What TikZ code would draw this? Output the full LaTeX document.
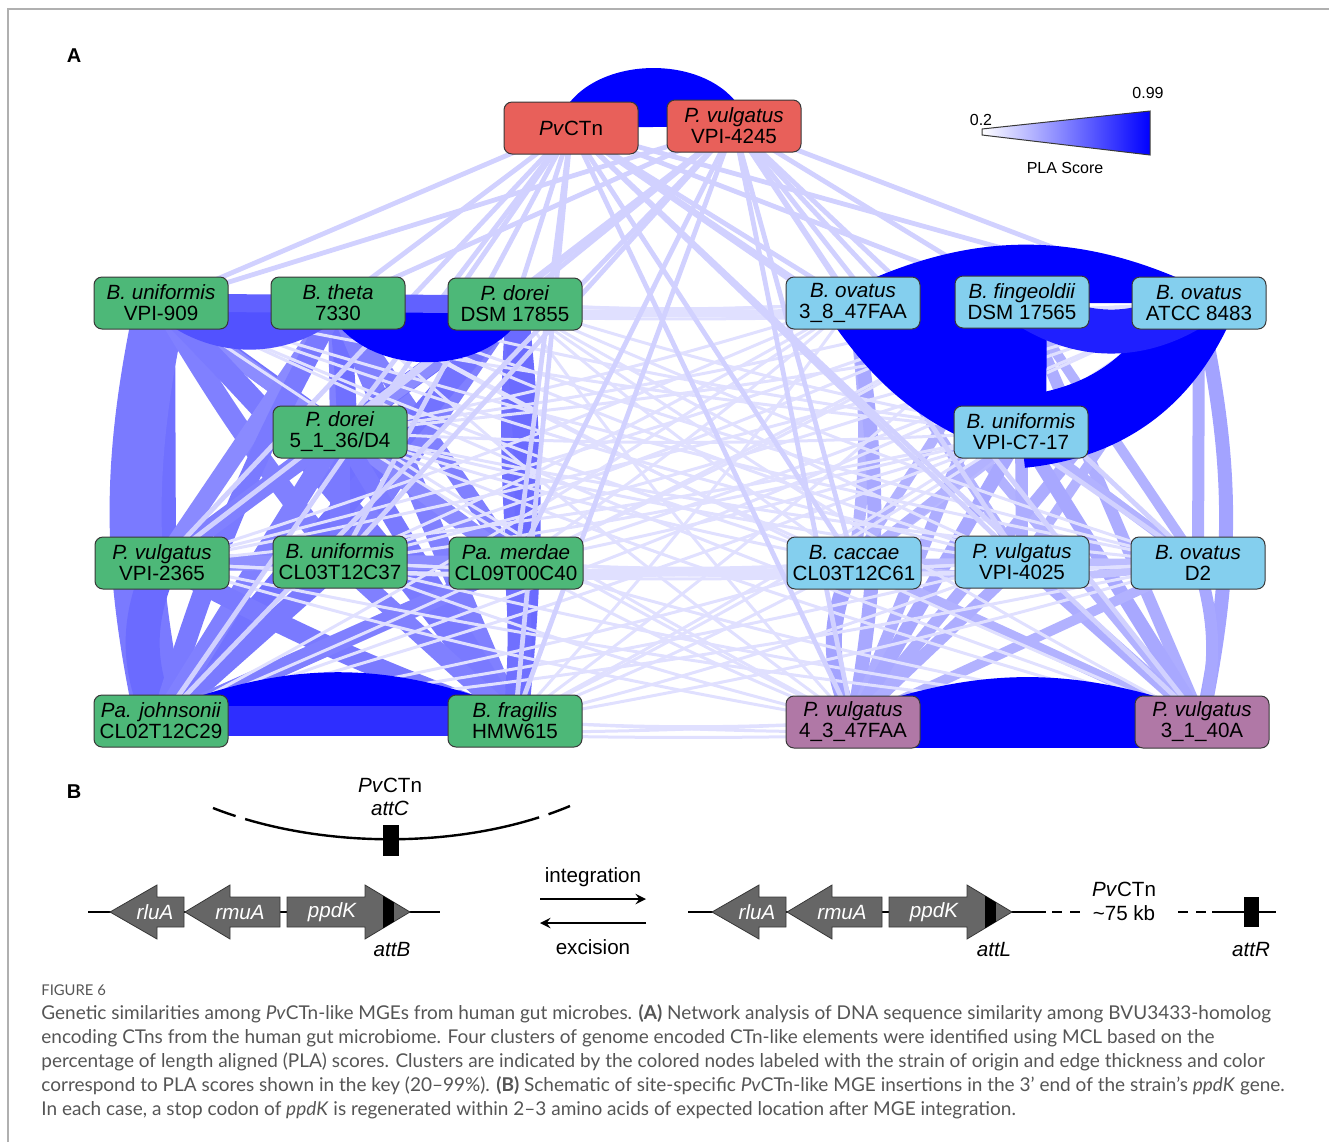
\documentclass[tikz,border=0pt]{standalone}
\usepackage{fontspec}
\setmainfont{Liberation Sans}
\newfontfamily\captionfont{Lato}
\usetikzlibrary{backgrounds}
\definecolor{clustgreen}{HTML}{4DB878}
\definecolor{clustblue}{HTML}{84CFEE}
\definecolor{clustpurple}{HTML}{B078A6}
\definecolor{clustred}{HTML}{E8605A}
\definecolor{boxline}{HTML}{383838}
\definecolor{genegrey}{HTML}{666666}
\definecolor{captiongrey}{HTML}{555555}
\definecolor{framegrey}{HTML}{B0B0B0}

\begin{document}
\begin{tikzpicture}[x=0.5pt,y=-0.5pt,>=stealth,font=\fontsize{10.3}{10.5}\selectfont]
  \tikzstyle{strain}=[draw=boxline, line width=0.5pt, rounded corners=4pt, minimum width=67pt, minimum height=26pt, inner sep=1pt, align=center]
  \tikzstyle{link}=[line cap=butt]
  \tikzstyle{crosslink}=[draw=blue!12, line width=1.5pt]
  \tikzstyle{redlink}=[draw=blue!18, line width=2.4pt]
  \tikzstyle{gene}=[fill=genegrey, draw=boxline, line width=0.4pt]
  \tikzstyle{genelab}=[text=white, font=\fontsize{10.3}{11}\selectfont\itshape]
  \tikzstyle{dna}=[line width=1.2pt]
  \tikzstyle{panel}=[font=\fontsize{10}{11}\selectfont\bfseries]
  \tikzstyle{capline}=[anchor=base west, inner sep=0pt, text=captiongrey, font=\captionfont\fontsize{9.5}{10}\selectfont]

  \useasboundingbox (0,0) rectangle (1329,1142);
  \draw[framegrey, line width=0.6pt] (8,1142) -- (8,9) -- (1329,9);

  \node[panel] (labA) at (74,56) {A};
  \node[panel] (labB) at (74,792) {B};

  % strains, coloured by MCL cluster
  \node[strain, fill=clustred] (pvc) at (571,128) {\textit{Pv}CTn};
  \node[strain, fill=clustred] (v4245) at (734,126) {\textit{P. vulgatus}\\VPI-4245};

  \node[strain, fill=clustgreen] (u909) at (161,303) {\textit{B. uniformis}\\VPI-909};
  \node[strain, fill=clustgreen] (th) at (338,303) {\textit{B. theta}\\7330};
  \node[strain, fill=clustgreen] (d855) at (515,304) {\textit{P. dorei}\\DSM 17855};
  \node[strain, fill=clustgreen] (d4) at (340,432) {\textit{P. dorei}\\5\_1\_36/D4};
  \node[strain, fill=clustgreen] (v2365) at (162,563) {\textit{P. vulgatus}\\VPI-2365};
  \node[strain, fill=clustgreen] (c37) at (340,562) {\textit{B. uniformis}\\CL03T12C37};
  \node[strain, fill=clustgreen] (mer) at (516,563) {\textit{Pa. merdae}\\CL09T00C40};
  \node[strain, fill=clustgreen] (joh) at (161,721) {\textit{Pa. johnsonii}\\CL02T12C29};
  \node[strain, fill=clustgreen] (fra) at (515,721) {\textit{B. fragilis}\\HMW615};

  \node[strain, fill=clustblue] (o38) at (853,303) {\textit{B. ovatus}\\3\_8\_47FAA};
  \node[strain, fill=clustblue] (fin) at (1022,302) {\textit{B. fingeoldii}\\DSM 17565};
  \node[strain, fill=clustblue] (oat) at (1199,303) {\textit{B. ovatus}\\ATCC 8483};
  \node[strain, fill=clustblue] (c717) at (1021,432) {\textit{B. uniformis}\\VPI-C7-17};
  \node[strain, fill=clustblue] (cac) at (854,563) {\textit{B. caccae}\\CL03T12C61};
  \node[strain, fill=clustblue] (v4025) at (1022,562) {\textit{P. vulgatus}\\VPI-4025};
  \node[strain, fill=clustblue] (od2) at (1198,563) {\textit{B. ovatus}\\D2};

  \node[strain, fill=clustpurple] (v43) at (853,722) {\textit{P. vulgatus}\\4\_3\_47FAA};
  \node[strain, fill=clustpurple] (v31) at (1202,722) {\textit{P. vulgatus}\\3\_1\_40A};

  \begin{pgfonlayer}{background}
    % green cluster
    \foreach \a/\b/\w/\k/\c in {
      u909/v2365/14pt/0/56, u909/joh/26pt/-12/52, v2365/joh/17pt/-24/58,
      u909/d4/9pt/0/55, u909/c37/10pt/-4/50, u909/mer/8pt/0/45, u909/fra/11pt/4/52,
      th/d4/10pt/0/50, th/v2365/9pt/0/46, th/c37/10pt/6/56, th/mer/8pt/0/50,
      th/joh/10pt/-6/52, th/fra/10pt/0/50,
      d855/d4/9pt/0/56, d855/v2365/8pt/0/45, d855/c37/9pt/0/50, d855/mer/9pt/-4/56,
      d855/joh/11pt/0/55, d855/fra/13pt/6/58,
      d4/v2365/9pt/0/50, d4/c37/10pt/0/52, d4/mer/8pt/0/46, d4/joh/10pt/0/50, d4/fra/9pt/0/52,
      v2365/c37/8pt/0/46, v2365/mer/7pt/0/44, v2365/fra/10pt/-4/52,
      c37/mer/7pt/0/45, c37/joh/10pt/0/52, c37/fra/9pt/0/50,
      mer/joh/9pt/0/50, mer/fra/12pt/5/56} {
      \draw[link, draw=blue!\c, line width=\w] (\a.center) to[bend left=\k] (\b.center);
    }
    % blue and purple clusters
    \foreach \a/\b/\w/\k/\c in {
      o38/cac/6pt/8/30, o38/v4025/5pt/0/30, o38/od2/4pt/0/26, o38/v43/7pt/10/34, o38/v31/5pt/0/30,
      fin/cac/5pt/0/30, fin/v4025/6pt/0/32, fin/od2/5pt/0/30, fin/v43/6pt/0/32, fin/v31/6pt/0/32,
      oat/cac/5pt/0/28, oat/v4025/5pt/0/30, oat/od2/6pt/0/32, oat/v43/6pt/0/32, oat/v31/7pt/12/36,
      c717/cac/5pt/0/30, c717/v4025/6pt/0/32, c717/od2/5pt/0/30, c717/v43/7pt/0/34, c717/v31/7pt/0/34,
      cac/v4025/4pt/0/26, cac/od2/4pt/-8/24, cac/v43/8pt/-25/36, cac/v31/5pt/0/30,
      v4025/od2/4pt/0/26, v4025/v43/6pt/0/32, v4025/v31/6pt/0/32,
      od2/v43/5pt/0/30, od2/v31/6pt/15/34} {
      \draw[link, draw=blue!\c, line width=\w] (\a.center) to[bend left=\k] (\b.center);
    }
    % weak links between clusters
    \foreach \g in {u909,th,d855,d4,v2365,c37,mer,joh,fra}
      \foreach \b in {o38,fin,oat,c717,cac,v4025,od2,v43,v31}
        \draw[crosslink] (\g.center) to[bend left=-3] (\b.center);
    \foreach \r in {pvc,v4245}
      \foreach \n in {u909,th,d855,d4,v2365,c37,mer,joh,fra,o38,fin,oat,c717,cac,v4025,od2,v43,v31}
        \draw[redlink] (\r.center) -- (\n.center);
    % strong links
    \foreach \a/\b/\w/\k/\c in {
      pvc/v4245/14pt/70/100, u909/th/12pt/-42/68, th/d855/12pt/-64/100,
      o38/oat/14pt/26/100, v43/v31/10pt/20/100, joh/fra/10pt/22/100} {
      \path[link, draw=blue!\c, fill=blue!\c, line width=\w] (\a.center) to[bend left=\k] (\b.center);
    }
    \fill[blue] (o38.center) -- (fin.center) -- (c717.center) -- cycle;
    \foreach \a/\b/\w/\k/\c in {
      u909/d855/9pt/0/62, joh/fra/15pt/0/82, v43/v31/26pt/0/100,
      o38/fin/15pt/0/100, o38/c717/28pt/-18/100, fin/c717/25pt/0/100,
      oat/c717/36pt/30/100, fin/oat/22pt/-34/88} {
      \draw[link, draw=blue!\c, line width=\w] (\a.center) to[bend left=\k] (\b.center);
    }
  \end{pgfonlayer}

  % key
  \shadedraw[left color=white, right color=blue, draw=boxline, line width=0.5pt]
    (982,129) -- (1150,111) -- (1150,155) -- (982,135) -- cycle;
  \node[font=\fontsize{8}{9}\selectfont] (lgmin) at (981,120) {0.2};
  \node[font=\fontsize{8}{9}\selectfont] (lgmax) at (1148,93) {0.99};
  \node[font=\fontsize{8}{9}\selectfont] (lgtitle) at (1065,168) {PLA Score};

  % panel B
  \draw[dna, dash pattern=on 12pt off 5pt on 149pt off 5pt on 14pt]
    (213,808) .. controls (320,850) and (465,850) .. (570,806);
  \fill (383,825) rectangle (399,856);
  \node (attCname) at (390,785) {\textit{Pv}CTn};
  \node (attC) at (390,808) {\textit{attC}};

  \draw[dna] (88,912) -- (440,912);
  \draw[dna] (688,912) -- (1046,912);
  \draw[dna, dash pattern=on 5pt off 4pt] (1052,912) -- (1084,912);
  \draw[dna, dash pattern=on 5pt off 4pt] (1178,912) -- (1208,912);
  \draw[dna] (1212,912) -- (1276,912);
  \fill (1244,897) rectangle (1259,927);

  \foreach \t/\h/\e/\lx/\lab/\nm in {110/157/184/155/rluA/rluAl, 185/230/280/240/rmuA/rmuAl,
                                     712/759/786/757/rluA/rluAr, 787/832/882/842/rmuA/rmuAr} {
    \draw[gene] (\t,912) -- (\h,885) -- (\h,897) -- (\e,897) -- (\e,927) -- (\h,927) -- (\h,939) -- cycle;
    \node[genelab] (\nm) at (\lx,912) {\lab};
  }
  \foreach \s/\h/\t/\lx/\nm in {287/365/410/332/ppdKl, 889/967/1012/934/ppdKr} {
    \draw[gene] (\s,897) -- (\h,897) -- (\h,885) -- (\t,912) -- (\h,939) -- (\h,927) -- (\s,927) -- cycle;
    \begin{scope}
      \clip (\h,885) -- (\t,912) -- (\h,939) -- cycle;
      \fill (\t-27,880) rectangle (\t-16,944);
    \end{scope}
    \node[genelab] (\nm) at (\lx,912) {ppdK};
  }
  \node (attB) at (392,950) {\textit{attB}};
  \node (attL) at (994,950) {\textit{attL}};
  \node (attR) at (1251,950) {\textit{attR}};
  \node (ctnname) at (1124,889) {\textit{Pv}CTn};
  \node (ctnsize) at (1124,913) {\textasciitilde 75 kb};

  \coordinate (intA) at (540,899);
  \coordinate (intB) at (646,899);
  \coordinate (excA) at (646,923);
  \coordinate (excB) at (540,923);
  \draw[->, line width=1.3pt] (intA) -- (intB);
  \draw[->, line width=1.3pt] (excA) -- (excB);
  \node (integ) at (593,877) {integration};
  \node (excis) at (593,947) {excision};

  % caption
  \node[capline, font=\captionfont\fontsize{7.4}{8}\selectfont] (capfig) at (41,995) {FIGURE 6};
  \node[capline] (cap1) at (41,1019) {Genetic similarities among \textit{Pv}CTn-like MGEs from human gut microbes. \textbf{(A)} Network analysis of DNA sequence similarity among BVU3433-homolog};
  \node[capline] (cap2) at (41,1043) {encoding CTns from the human gut microbiome. Four clusters of genome encoded CTn-like elements were identified using MCL based on the};
  \node[capline] (cap3) at (41,1067) {percentage of length aligned (PLA) scores. Clusters are indicated by the colored nodes labeled with the strain of origin and edge thickness and color};
  \node[capline] (cap4) at (41,1091) {correspond to PLA scores shown in the key (20–99\%). \textbf{(B)} Schematic of site-specific \textit{Pv}CTn-like MGE insertions in the 3’ end of the strain’s \textit{ppdK} gene.};
  \node[capline] (cap5) at (41,1115) {In each case, a stop codon of \textit{ppdK} is regenerated within 2–3 amino acids of expected location after MGE integration.};
\end{tikzpicture}
\end{document}
